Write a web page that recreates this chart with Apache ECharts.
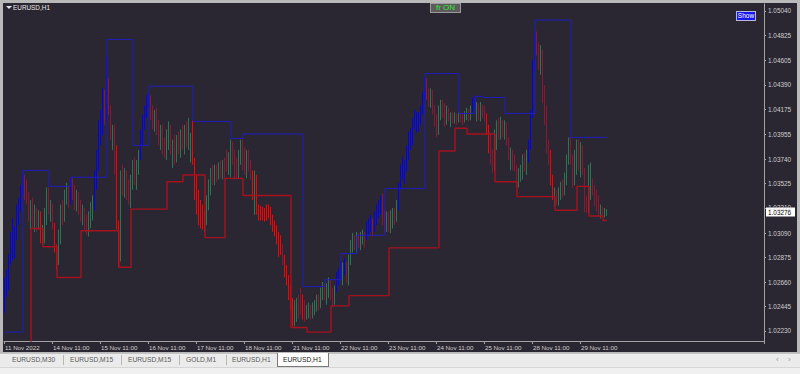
<!DOCTYPE html>
<html>
<head>
<meta charset="utf-8">
<script src="https://cdn.jsdelivr.net/npm/echarts@6/dist/echarts.min.js"></script>
<style>
  html, body { margin:0; padding:0; }
  body { width:800px; height:374px; overflow:hidden; position:relative; background:#f0f0f0; font-family:"Liberation Sans", Arial, sans-serif; }
  .abs { position:absolute; }
  #frame { left:0; top:0; width:800px; height:353px; background:#b9b9b9; }
  #dark { left:3px; top:3px; width:794px; height:349px; background:#2b2732; }
  #chart { left:0; top:0; width:800px; height:374px; }
  #tabs { left:0; top:353px; width:800px; height:14px; background:#ebebeb; border-top:1px solid #c4c4c4; box-sizing:border-box; }
  #below { left:0; top:367px; width:800px; height:7px; background:#f0f0f0; border-top:1px solid #d6d6d6; box-sizing:border-box; }
  .tab { top:355px; font-size:6.7px; color:#5a5a5a; white-space:nowrap; line-height:10px; }
  .sep { top:355px; width:1px; height:10px; background:#b8b8b8; }
  #active { left:277px; top:353px; width:52px; height:14px; background:#ffffff; border:1px solid #7a7a7a; border-top:none; box-sizing:border-box; }
  #sym { left:13px; top:4px; font-size:6.4px; color:#e6e6e6; line-height:8px; }
  #tri { left:6px; top:6px; width:0; height:0; border-left:3px solid transparent; border-right:3px solid transparent; border-top:3px solid #e6e6e6; }
  #fr { left:430px; top:3px; width:31px; height:10px; background:#5c5c5c; border:1px solid #9a9a9a; box-sizing:border-box; color:#33e833; font-size:8px; line-height:8px; text-align:center; }
  #show { left:736px; top:11px; width:20px; height:10px; background:#1616ee; border:1px solid #b8b8dc; box-sizing:border-box; color:#ffffff; font-size:6.5px; line-height:8px; text-align:center; }
  .arr { top:355px; font-size:8px; color:#9a9a9a; line-height:10px; }
</style>
</head>
<body>
<div id="frame" class="abs"></div>
<div id="dark" class="abs"></div>
<div id="chart" class="abs"></div>
<div id="tri" class="abs"></div>
<div id="sym" class="abs">EURUSD,H1</div>
<div id="fr" class="abs">fr ON</div>
<div id="show" class="abs">Show</div>
<div id="tabs" class="abs"></div>
<div id="below" class="abs"></div>
<div id="active" class="abs"></div>
<div class="abs tab" style="left:12px">EURUSD,M30</div>
<div class="abs sep" style="left:63px"></div>
<div class="abs tab" style="left:70px">EURUSD,M15</div>
<div class="abs sep" style="left:121px"></div>
<div class="abs tab" style="left:128px">EURUSD,M15</div>
<div class="abs sep" style="left:179px"></div>
<div class="abs tab" style="left:186px">GOLD,M1</div>
<div class="abs sep" style="left:226px"></div>
<div class="abs tab" style="left:232px">EURUSD,H1</div>
<div class="abs tab" style="left:283px;color:#202020">EURUSD,H1</div>
<div class="abs arr" style="left:776px">‹</div>
<div class="abs arr" style="left:788px">›</div>
<script>
// ---------- tick labels ----------
const xLabels = ['11 Nov 2022','14 Nov 11:00','15 Nov 11:00','16 Nov 11:00','17 Nov 11:00','18 Nov 11:00',
  '21 Nov 11:00','22 Nov 11:00','23 Nov 11:00','24 Nov 11:00','25 Nov 11:00','28 Nov 11:00','29 Nov 11:00'];
const yTickValues = [1.02230,1.02445,1.02660,1.02875,1.03090,1.03310,1.03525,1.03740,1.03955,1.04175,1.04390,1.04605,1.04825,1.05040];
const lastPrice = 1.03276;

// ---------- H1 bars [open, high, low, close], one array per 24-bar block ----------
const nov11 = [[1.0246,1.0270,1.0239,1.0265],[1.0259,1.0277,1.0253,1.0268],[1.0266,1.0290,1.0259,1.0284],[1.0284,1.0310,1.0281,1.0303],
[1.0299,1.0322,1.0285,1.0307],[1.0303,1.0315,1.0287,1.0310],[1.0307,1.0334,1.0303,1.0329],[1.0325,1.0340,1.0316,1.0336],
[1.0334,1.0351,1.0328,1.0347],[1.0345,1.0362,1.0342,1.0357],[1.0357,1.0360,1.0338,1.0347],[1.0347,1.0356,1.0334,1.0340],
[1.0340,1.0345,1.0319,1.0325],[1.0319,1.0338,1.0312,1.0334],[1.0334,1.0340,1.0313,1.0322],[1.0320,1.0334,1.0310,1.0329],
[1.0328,1.0331,1.0310,1.0316],[1.0316,1.0329,1.0312,1.0325],[1.0325,1.0328,1.0300,1.0303],[1.0303,1.0316,1.0299,1.0312],
[1.0305,1.0331,1.0300,1.0328],[1.0328,1.0349,1.0316,1.0338],[1.0340,1.0349,1.0325,1.0329],[1.0329,1.0338,1.0319,1.0334]];
const nov14 = [[1.0333,1.0335,1.0312,1.0316],[1.0316,1.0318,1.0292,1.0296],[1.0296,1.0299,1.0277,1.0284],[1.0285,1.0312,1.0281,1.0307],
[1.0307,1.0334,1.0299,1.0329],[1.0329,1.0338,1.0316,1.0322],[1.0322,1.0347,1.0319,1.0342],[1.0342,1.0353,1.0334,1.0349],
[1.0349,1.0351,1.0331,1.0338],[1.0338,1.0357,1.0334,1.0354],[1.0354,1.0357,1.0338,1.0342],[1.0342,1.0351,1.0329,1.0334],
[1.0334,1.0347,1.0328,1.0342],[1.0342,1.0345,1.0325,1.0329],[1.0329,1.0338,1.0319,1.0322],[1.0322,1.0334,1.0316,1.0329],
[1.0329,1.0331,1.0312,1.0316],[1.0316,1.0325,1.0307,1.0312],[1.0312,1.0328,1.0306,1.0322],[1.0322,1.0336,1.0313,1.0331],
[1.0331,1.0342,1.0320,1.0338],[1.0336,1.0364,1.0329,1.0360],[1.0360,1.0382,1.0347,1.0378],[1.0378,1.0408,1.0364,1.0401]];
const nov15 = [[1.0401,1.0417,1.0386,1.0413],[1.0413,1.0436,1.0395,1.0430],[1.0430,1.0435,1.0404,1.0410],[1.0410,1.0464,1.0408,1.0443],
[1.0443,1.0445,1.0413,1.0419],[1.0419,1.0421,1.0391,1.0395],[1.0391,1.0404,1.0382,1.0400],[1.0400,1.0404,1.0360,1.0364],
[1.0364,1.0386,1.0312,1.0316],[1.0316,1.0320,1.0279,1.0284],[1.0290,1.0364,1.0284,1.0357],[1.0357,1.0369,1.0342,1.0347],
[1.0347,1.0366,1.0340,1.0360],[1.0360,1.0364,1.0338,1.0342],[1.0342,1.0356,1.0334,1.0338],[1.0338,1.0360,1.0331,1.0356],
[1.0356,1.0373,1.0347,1.0369],[1.0369,1.0375,1.0351,1.0356],[1.0356,1.0373,1.0347,1.0369],[1.0369,1.0382,1.0360,1.0378],
[1.0378,1.0400,1.0373,1.0395],[1.0395,1.0413,1.0386,1.0408],[1.0408,1.0421,1.0400,1.0417],[1.0417,1.0430,1.0410,1.0426]];
const nov16 = [[1.0426,1.0432,1.0419,1.0429],[1.0429,1.0430,1.0408,1.0413],[1.0413,1.0421,1.0400,1.0404],[1.0404,1.0417,1.0398,1.0413],
[1.0413,1.0419,1.0395,1.0400],[1.0400,1.0408,1.0386,1.0391],[1.0391,1.0404,1.0382,1.0400],[1.0400,1.0404,1.0378,1.0382],
[1.0386,1.0393,1.0375,1.0380],[1.0380,1.0400,1.0373,1.0395],[1.0395,1.0407,1.0382,1.0401],[1.0401,1.0404,1.0378,1.0382],
[1.0382,1.0391,1.0366,1.0386],[1.0386,1.0395,1.0369,1.0373],[1.0373,1.0395,1.0371,1.0391],[1.0391,1.0398,1.0378,1.0382],
[1.0382,1.0400,1.0375,1.0395],[1.0395,1.0404,1.0382,1.0386],[1.0386,1.0404,1.0378,1.0400],[1.0400,1.0407,1.0384,1.0391],
[1.0391,1.0410,1.0382,1.0404],[1.0378,1.0397,1.0371,1.0393],[1.0393,1.0408,1.0369,1.0373],[1.0373,1.0375,1.0338,1.0342]];
const nov17 = [[1.0342,1.0360,1.0325,1.0334],[1.0334,1.0347,1.0316,1.0320],[1.0322,1.0338,1.0313,1.0319],[1.0320,1.0334,1.0312,1.0313],
[1.0313,1.0329,1.0310,1.0325],[1.0325,1.0342,1.0316,1.0338],[1.0338,1.0356,1.0329,1.0351],[1.0351,1.0366,1.0342,1.0363],
[1.0363,1.0369,1.0351,1.0356],[1.0356,1.0369,1.0351,1.0364],[1.0364,1.0369,1.0354,1.0357],[1.0357,1.0371,1.0356,1.0366],
[1.0366,1.0373,1.0357,1.0363],[1.0363,1.0373,1.0356,1.0369],[1.0369,1.0375,1.0357,1.0363],[1.0378,1.0382,1.0363,1.0366],
[1.0366,1.0380,1.0360,1.0375],[1.0364,1.0391,1.0358,1.0386],[1.0386,1.0389,1.0369,1.0373],[1.0373,1.0382,1.0356,1.0360],
[1.0369,1.0375,1.0356,1.0360],[1.0360,1.0382,1.0357,1.0378],[1.0373,1.0391,1.0369,1.0386],[1.0386,1.0391,1.0364,1.0369]];
const nov18 = [[1.0373,1.0384,1.0360,1.0364],[1.0364,1.0382,1.0357,1.0378],[1.0378,1.0382,1.0363,1.0366],[1.0366,1.0373,1.0356,1.0357],
[1.0357,1.0364,1.0338,1.0342],[1.0342,1.0364,1.0325,1.0360],[1.0357,1.0360,1.0325,1.0329],[1.0329,1.0334,1.0320,1.0325],
[1.0328,1.0333,1.0320,1.0325],[1.0325,1.0332,1.0320,1.0329],[1.0329,1.0331,1.0319,1.0322],[1.0322,1.0334,1.0320,1.0331],
[1.0331,1.0334,1.0322,1.0325],[1.0325,1.0332,1.0316,1.0320],[1.0320,1.0325,1.0310,1.0313],[1.0316,1.0320,1.0306,1.0310],
[1.0310,1.0316,1.0299,1.0303],[1.0303,1.0310,1.0288,1.0292],[1.0292,1.0307,1.0290,1.0299],[1.0296,1.0299,1.0281,1.0285],
[1.0285,1.0290,1.0270,1.0275],[1.0275,1.0281,1.0263,1.0268],[1.0268,1.0272,1.0250,1.0255],[1.0255,1.0263,1.0241,1.0246]];
const nov21 = [[1.0246,1.0252,1.0227,1.0233],[1.0231,1.0250,1.0227,1.0246],[1.0246,1.0252,1.0231,1.0249],[1.0250,1.0255,1.0234,1.0240],
[1.0252,1.0261,1.0237,1.0241],[1.0241,1.0255,1.0233,1.0234],[1.0237,1.0250,1.0231,1.0234],[1.0234,1.0246,1.0233,1.0243],
[1.0241,1.0248,1.0234,1.0245],[1.0245,1.0246,1.0233,1.0237],[1.0237,1.0248,1.0234,1.0245],[1.0243,1.0250,1.0237,1.0248],
[1.0246,1.0255,1.0240,1.0252],[1.0252,1.0255,1.0241,1.0246],[1.0246,1.0261,1.0243,1.0257],[1.0256,1.0266,1.0250,1.0263],
[1.0263,1.0265,1.0250,1.0254],[1.0254,1.0265,1.0246,1.0261],[1.0261,1.0270,1.0252,1.0266],[1.0266,1.0268,1.0250,1.0255],
[1.0255,1.0261,1.0244,1.0249],[1.0249,1.0263,1.0246,1.0259],[1.0259,1.0275,1.0257,1.0271],[1.0270,1.0278,1.0263,1.0275]];
const nov22 = [[1.0275,1.0284,1.0268,1.0280],[1.0270,1.0283,1.0263,1.0278],[1.0278,1.0287,1.0272,1.0284],[1.0282,1.0284,1.0265,1.0270],
[1.0268,1.0290,1.0263,1.0285],[1.0285,1.0303,1.0281,1.0299],[1.0299,1.0309,1.0292,1.0305],[1.0305,1.0307,1.0294,1.0298],
[1.0298,1.0310,1.0292,1.0305],[1.0305,1.0309,1.0296,1.0299],[1.0299,1.0310,1.0294,1.0306],[1.0305,1.0312,1.0299,1.0308],
[1.0308,1.0310,1.0296,1.0301],[1.0305,1.0319,1.0303,1.0315],[1.0315,1.0322,1.0307,1.0319],[1.0316,1.0325,1.0310,1.0320],
[1.0320,1.0322,1.0306,1.0312],[1.0313,1.0328,1.0310,1.0324],[1.0324,1.0334,1.0316,1.0329],[1.0329,1.0338,1.0322,1.0335],
[1.0335,1.0342,1.0325,1.0338],[1.0340,1.0344,1.0316,1.0322],[1.0322,1.0329,1.0309,1.0313],[1.0313,1.0328,1.0310,1.0322]];
const nov23 = [[1.0322,1.0328,1.0310,1.0315],[1.0315,1.0329,1.0309,1.0325],[1.0325,1.0331,1.0313,1.0328],[1.0328,1.0331,1.0316,1.0320],
[1.0320,1.0338,1.0319,1.0334],[1.0334,1.0353,1.0329,1.0349],[1.0349,1.0369,1.0347,1.0364],[1.0364,1.0376,1.0356,1.0371],
[1.0363,1.0373,1.0352,1.0368],[1.0368,1.0386,1.0363,1.0382],[1.0382,1.0398,1.0373,1.0393],[1.0389,1.0401,1.0382,1.0396],
[1.0396,1.0410,1.0386,1.0407],[1.0407,1.0417,1.0400,1.0410],[1.0410,1.0415,1.0397,1.0403],[1.0403,1.0415,1.0398,1.0412],
[1.0412,1.0421,1.0404,1.0417],[1.0417,1.0433,1.0413,1.0429],[1.0429,1.0446,1.0426,1.0443],[1.0443,1.0445,1.0426,1.0430],
[1.0430,1.0436,1.0420,1.0423],[1.0423,1.0436,1.0419,1.0433],[1.0433,1.0435,1.0413,1.0417],[1.0417,1.0421,1.0402,1.0407]];
const nov24 = [[1.0407,1.0413,1.0393,1.0400],[1.0400,1.0421,1.0395,1.0417],[1.0417,1.0426,1.0408,1.0422],[1.0422,1.0426,1.0410,1.0414],
[1.0414,1.0423,1.0402,1.0407],[1.0407,1.0421,1.0404,1.0417],[1.0417,1.0419,1.0407,1.0410],[1.0407,1.0415,1.0402,1.0413],
[1.0413,1.0415,1.0405,1.0408],[1.0408,1.0415,1.0405,1.0413],[1.0413,1.0414,1.0404,1.0408],[1.0408,1.0415,1.0406,1.0412],
[1.0413,1.0415,1.0406,1.0408],[1.0411,1.0414,1.0404,1.0407],[1.0407,1.0416,1.0406,1.0413],[1.0413,1.0419,1.0408,1.0415],
[1.0415,1.0418,1.0407,1.0410],[1.0410,1.0421,1.0408,1.0419],[1.0419,1.0428,1.0415,1.0424],[1.0424,1.0429,1.0419,1.0426],
[1.0410,1.0424,1.0407,1.0421],[1.0421,1.0423,1.0408,1.0413],[1.0413,1.0424,1.0407,1.0421],[1.0421,1.0422,1.0410,1.0414]];
const nov25 = [[1.0417,1.0421,1.0407,1.0410],[1.0410,1.0414,1.0395,1.0400],[1.0400,1.0404,1.0379,1.0384],[1.0391,1.0397,1.0369,1.0375],
[1.0375,1.0382,1.0362,1.0366],[1.0369,1.0400,1.0364,1.0395],[1.0391,1.0408,1.0382,1.0404],[1.0404,1.0410,1.0391,1.0395],
[1.0395,1.0411,1.0391,1.0407],[1.0407,1.0408,1.0393,1.0398],[1.0398,1.0408,1.0391,1.0404],[1.0404,1.0406,1.0386,1.0391],
[1.0391,1.0393,1.0373,1.0378],[1.0373,1.0384,1.0364,1.0380],[1.0380,1.0382,1.0364,1.0369],[1.0373,1.0378,1.0363,1.0366],
[1.0366,1.0369,1.0349,1.0356],[1.0354,1.0366,1.0349,1.0363],[1.0360,1.0369,1.0354,1.0364],[1.0360,1.0378,1.0356,1.0373],
[1.0373,1.0379,1.0363,1.0366],[1.0366,1.0382,1.0360,1.0378],[1.0378,1.0391,1.0371,1.0386],[1.0386,1.0417,1.0382,1.0413]];
const nov28 = [[1.0413,1.0461,1.0410,1.0457],[1.0457,1.0485,1.0452,1.0480],[1.0480,1.0486,1.0465,1.0470],[1.0470,1.0476,1.0452,1.0457],
[1.0457,1.0474,1.0448,1.0470],[1.0468,1.0470,1.0423,1.0430],[1.0430,1.0439,1.0404,1.0410],[1.0410,1.0421,1.0379,1.0386],
[1.0386,1.0391,1.0369,1.0373],[1.0373,1.0382,1.0351,1.0356],[1.0356,1.0360,1.0338,1.0342],[1.0338,1.0349,1.0332,1.0345],
[1.0345,1.0347,1.0334,1.0338],[1.0338,1.0349,1.0333,1.0345],[1.0345,1.0354,1.0338,1.0350],[1.0350,1.0356,1.0340,1.0343],
[1.0343,1.0362,1.0342,1.0357],[1.0357,1.0378,1.0351,1.0373],[1.0373,1.0393,1.0369,1.0389],[1.0389,1.0393,1.0369,1.0373],
[1.0373,1.0378,1.0349,1.0356],[1.0356,1.0382,1.0351,1.0378],[1.0378,1.0391,1.0360,1.0386],[1.0386,1.0391,1.0364,1.0369]];
const nov29 = [[1.0369,1.0389,1.0358,1.0384],[1.0384,1.0386,1.0360,1.0364],[1.0364,1.0366,1.0327,1.0334],[1.0334,1.0342,1.0327,1.0331],
[1.0331,1.0369,1.0327,1.0364],[1.0347,1.0371,1.0338,1.0364],[1.0356,1.0357,1.0342,1.0347],[1.0347,1.0351,1.0332,1.0338],
[1.0338,1.0347,1.0328,1.0331],[1.0334,1.0342,1.0323,1.0328],[1.0325,1.0334,1.0322,1.0331],[1.0329,1.0332,1.0322,1.0325],
[1.0325,1.0331,1.0323,1.0328],[1.0327,1.0330,1.0324,1.03276]];

// ---------- indicator signal per bar: 1 strong up, -1 strong down, 0 normal ----------
const sig11 = [1,1,1,1,1,1,1,1,1,1,0,0,0,0,0,0,0,0,-1,0,0,0,0,0];
const sig14 = [0,-1,-1,0,0,0,0,0,0,1,0,0,0,0,0,0,0,0,0,0,0,1,1,1];
const sig15 = [1,1,0,1,0,0,0,0,-1,-1,0,0,0,0,0,0,0,0,0,0,1,1,1,1];
const sig16 = [1,0,0,0,0,0,0,0,0,0,0,0,0,0,0,0,0,0,0,0,0,0,-1,-1];
const sig17 = [-1,-1,-1,-1,0,0,0,0,0,0,0,0,0,0,0,0,0,0,0,0,0,0,0,0];
const sig18 = [0,0,0,0,-1,0,-1,-1,-1,-1,-1,-1,-1,-1,-1,-1,-1,-1,-1,0,-1,-1,-1,-1];
const sig21 = [-1,0,0,0,0,-1,0,0,0,0,0,0,0,0,0,0,0,0,0,0,0,0,1,1];
const sig22 = [1,0,1,0,0,0,0,0,0,0,0,0,0,1,1,1,0,1,1,1,1,0,0,0];
const sig23 = [0,0,0,0,0,1,1,1,1,1,1,1,1,1,1,1,1,1,1,0,0,0,0,0];
const sig24 = [0,0,0,0,0,0,0,0,0,0,0,0,0,0,0,0,0,0,1,1,0,0,0,0];
const sig25 = [0,-1,-1,0,0,0,0,0,0,0,0,0,0,0,0,0,0,0,0,0,0,0,1,1];
const sig28 = [1,1,0,0,0,0,0,0,0,-1,-1,0,0,0,0,0,0,0,0,0,0,0,0,0];
const sig29 = [0,0,0,0,0,0,0,0,0,0,0,0,0,0];

// ---------- channel levels: bar index where each level starts ----------
const upperBars   = [0,9,22,33,51,64,72,94,113,119,149,160,168,176,190,210,227,235,239,250,265,283,301];
const upperLevels = [1.0222,1.0364,1.0350,1.0358,1.0479,1.0386,1.0438,1.0407,1.0392,1.0396,1.0262,1.0268,1.0291,1.0307,1.0348,1.0449,1.0414,1.0429,1.0428,1.0414,1.0496,1.0393,1.0393];
const lowerBars   = [0,13,19,26,38,57,63,81,89,100,110,119,143,151,163,172,192,217,225,231,245,256,275,286,292,299,301];
const lowerLevels = [1.0195,1.0313,1.0297,1.0270,1.0311,1.0279,1.0330,1.0354,1.0360,1.0305,1.0357,1.0342,1.0226,1.0222,1.0245,1.0254,1.0296,1.0381,1.0401,1.0396,1.0354,1.0341,1.0329,1.0350,1.0324,1.0320,1.0320];

// ---------- build ----------
const bars = [].concat(nov11,nov14,nov15,nov16,nov17,nov18,nov21,nov22,nov23,nov24,nov25,nov28,nov29);
const signals = [].concat(sig11,sig14,sig15,sig16,sig17,sig18,sig21,sig22,sig23,sig24,sig25,sig28,sig29);
const SLOTS = 380;
const categories = Array.from({length: SLOTS}, (_, i) => String(i));
const BLUE = '#0000ff', RED = '#ff0000', GREEN = '#2a7650', DARKRED = '#8e1630';

const candleData = bars.map((b, i) => {
  const item = { value: [b[0], b[3], b[2], b[1]] };
  const s = signals[i];
  if (s === 1) item.itemStyle = { color: BLUE, color0: BLUE, borderColor: BLUE, borderColor0: BLUE };
  else if (s === -1) item.itemStyle = { color: RED, color0: RED, borderColor: RED, borderColor0: RED };
  return item;
});
const upperData = upperBars.map((b, k) => [b, upperLevels[k]]);
const lowerData = lowerBars.map((b, k) => [b, lowerLevels[k]]);

const showX = (i) => i % 24 === 0 && i / 24 < xLabels.length;
const AXIS = '#a3a3a3', LABEL = '#cdcdcd', FONT = '"Liberation Sans", Arial, sans-serif';

const chart = echarts.init(document.getElementById('chart'), null, { renderer: 'svg' });
chart.setOption({
  animation: false,
  backgroundColor: 'transparent',
  grid: { left: 4, right: 36, top: 4, bottom: 33, containLabel: false, outerBoundsMode: 'none' },
  xAxis: {
    type: 'category', data: categories, boundaryGap: true,
    axisLine: { show: true, onZero: false, lineStyle: { color: AXIS, width: 1 } },
    axisTick: { show: true, interval: showX, length: 3, lineStyle: { color: AXIS } },
    axisLabel: { interval: showX, formatter: (v, i) => xLabels[i / 24], align: 'left', color: LABEL,
      fontSize: 6.2, fontFamily: FONT, margin: 3 },
    splitLine: { show: false }
  },
  yAxis: {
    type: 'value', position: 'right', scale: true, min: 1.02142, max: 1.05101,
    axisLine: { show: true, lineStyle: { color: AXIS, width: 1 } },
    axisTick: { show: true, customValues: yTickValues, length: 2, lineStyle: { color: AXIS } },
    axisLabel: { customValues: yTickValues, formatter: v => v.toFixed(5), color: LABEL, fontSize: 6.4, fontFamily: FONT, margin: 4 },
    splitLine: { show: false }
  },
  series: [
    { type: 'candlestick', data: candleData, barWidth: 1, z: 2,
      itemStyle: { color: GREEN, color0: DARKRED, borderColor: GREEN, borderColor0: DARKRED, borderWidth: 1 } },
    { type: 'line', data: upperData, step: 'end', symbol: 'none', z: 3,
      lineStyle: { color: '#1e1ebe', width: 1 } },
    { type: 'line', data: lowerData, step: 'end', symbol: 'none', z: 3,
      lineStyle: { color: '#a5121e', width: 1.4 } }
  ]
});

const py = chart.convertToPixel({ yAxisIndex: 0 }, lastPrice);
chart.setOption({
  graphic: [{
    type: 'group', z: 100, children: [
      { type: 'rect', shape: { x: 766, y: Math.round(py) - 4.5, width: 29, height: 9 }, style: { fill: '#ffffff' } },
      { type: 'text', x: 768, y: Math.round(py), style: { text: lastPrice.toFixed(5), fill: '#000000',
        fontSize: 6.4, fontFamily: FONT, verticalAlign: 'middle', align: 'left' } }
    ]
  }]
});
</script>
</body>
</html>
